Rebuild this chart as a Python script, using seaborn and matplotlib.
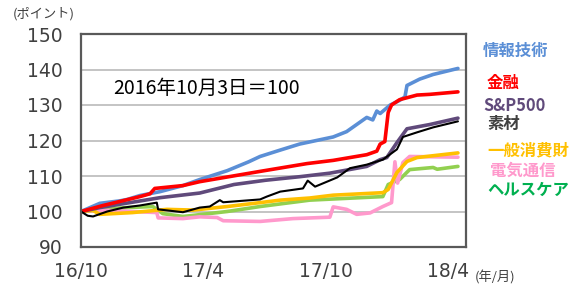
import matplotlib
matplotlib.use("Agg")
import matplotlib.pyplot as plt
import seaborn as sns
import pandas as pd

# ---------------- data ----------------
it_dates = ["2016-10-03","2016-10-31","2016-11-30","2016-12-11","2016-12-30","2017-01-29","2017-03-04","2017-03-29",
            "2017-05-09","2017-06-10","2017-06-27","2017-07-27","2017-08-25","2017-10-14","2017-11-03","2017-12-03",
            "2017-12-12","2017-12-18","2017-12-23","2018-01-07","2018-01-21","2018-01-29","2018-02-01","2018-02-20",
            "2018-03-12","2018-04-18"]
it_vals = [100,102.3,103.0,103.4,104.5,105.6,107.3,109.0,
           111.5,114.0,115.5,117.3,119.0,121.0,122.5,126.5,
           125.8,128.3,127.6,130.0,131.3,132.3,135.5,137.3,
           138.6,140.3]

fin_dates = ["2016-10-03","2016-11-05","2016-12-30","2017-01-14","2017-01-21","2017-03-04","2017-03-29","2017-06-27",
             "2017-09-05","2017-10-14","2017-12-03","2017-12-18","2017-12-23","2017-12-30","2018-01-04","2018-01-09",
             "2018-01-21","2018-02-16","2018-03-07","2018-04-18"]
fin_vals = [100,101.7,104.2,105.0,106.5,107.3,108.4,111.3,
            113.5,114.4,116.0,117.0,119.0,119.7,127.9,130.0,
            131.5,132.8,133.0,133.7]

sp_dates = ["2016-10-03","2016-10-31","2017-01-29","2017-03-29","2017-05-19","2017-07-05","2017-08-25","2017-10-09",
            "2017-12-03","2017-12-23","2018-01-02","2018-01-17","2018-02-01","2018-03-07","2018-04-18"]
sp_vals = [100,101.1,103.9,105.2,107.6,108.8,109.8,110.8,
           112.7,114.6,115.2,119.4,123.3,124.5,126.3]

mat_dates = ["2016-10-03","2016-10-13","2016-10-21","2016-11-11","2016-12-05","2016-12-30","2017-01-24","2017-01-26",
             "2017-03-04","2017-03-29","2017-04-13","2017-04-28","2017-05-03","2017-06-27","2017-07-07","2017-07-27",
             "2017-08-30","2017-09-06","2017-09-17","2017-10-20","2017-11-08","2017-12-03","2017-12-27","2018-01-17",
             "2018-01-26","2018-02-16","2018-03-12","2018-04-18"]
mat_vals = [100,98.8,98.6,100.0,101.1,101.7,102.5,100.6,
            99.8,101.1,101.4,103.2,102.6,103.4,104.2,105.6,
            106.5,108.7,107.0,109.6,112.2,113.2,114.6,117.5,
            121.0,122.3,123.7,125.4]

cons_dates = ["2016-10-03","2016-10-21","2016-10-31","2016-12-19","2017-02-08","2017-03-19","2017-05-09","2017-06-27",
              "2017-07-27","2017-09-09","2017-10-14","2017-12-27","2018-01-04","2018-01-17","2018-02-01","2018-02-16",
              "2018-04-18"]
cons_vals = [100,100.3,99.2,99.7,100.6,100.4,101.4,102.5,
             103.2,103.8,104.6,105.3,106.2,111.0,114.1,115.2,
             116.5]

tel_dates = ["2016-10-03","2016-10-31","2017-01-24","2017-01-26","2017-03-04","2017-03-29","2017-04-24","2017-05-03",
             "2017-06-27","2017-08-15","2017-10-09","2017-10-14","2017-11-03","2017-11-18","2017-12-08","2017-12-27",
             "2018-01-09","2018-01-14","2018-01-18","2018-01-26","2018-02-05","2018-04-18"]
tel_vals = [100,100.4,99.7,98.2,98.0,98.5,98.3,97.4,
            97.2,98.0,98.4,101.3,100.6,99.2,99.6,101.4,
            102.5,114.0,108.0,113.8,115.5,115.3]

hc_dates = ["2016-10-03","2016-10-31","2016-12-11","2017-01-18","2017-02-02","2017-03-04","2017-03-19","2017-05-09",
            "2017-06-27","2017-09-09","2017-12-27","2018-01-04","2018-01-21","2018-02-05","2018-03-12","2018-03-18",
            "2018-04-18"]
hc_vals = [100,100.6,101.1,101.4,99.4,98.6,98.9,100.0,
           101.4,103.2,104.2,107.6,109.0,111.8,112.4,111.9,
           112.7]

series_names = ["情報技術", "金融", "S&P500", "素材", "一般消費財", "電気通信", "ヘルスケア"]
tick_dates = ["2016-10-03", "2017-04-03", "2017-10-03", "2018-04-03"]
tick_labels = ["16/10", "17/4", "17/10", "18/4"]
y_ticks = [90, 100, 110, 120, 130, 140, 150]

# ---------------- build long table ----------------
raw = {
    "情報技術": (it_dates, it_vals),
    "金融": (fin_dates, fin_vals),
    "S&P500": (sp_dates, sp_vals),
    "素材": (mat_dates, mat_vals),
    "一般消費財": (cons_dates, cons_vals),
    "電気通信": (tel_dates, tel_vals),
    "ヘルスケア": (hc_dates, hc_vals),
}
frames = []
for name in series_names:
    d, v = raw[name]
    frames.append(pd.DataFrame({"date": pd.to_datetime(d), "value": v, "sector": name}))
df = pd.concat(frames, ignore_index=True)

line_colors = {"情報技術": "#5B8FD6", "金融": "#FF0000", "S&P500": "#604A7B", "素材": "#000000",
               "一般消費財": "#FFC000", "電気通信": "#FF99CC", "ヘルスケア": "#92D050"}
label_colors = {"情報技術": "#5B8FD6", "金融": "#FF0000", "S&P500": "#604A7B", "素材": "#404040",
                "一般消費財": "#FFC000", "電気通信": "#FF99CC", "ヘルスケア": "#00B050"}

# ---------------- plot ----------------
sns.set_style("white")
plt.rcParams["font.family"] = ["Noto Sans CJK JP", "DejaVu Sans"]

fig = plt.figure(figsize=(5.73, 2.88), dpi=100)
ax = fig.add_axes([81/573, 1-247/288, (466-81)/573, (247-34)/288])

draw_order = ["ヘルスケア", "電気通信", "一般消費財", "S&P500", "情報技術", "金融", "素材"]
for name in draw_order:
    sub = df[df["sector"] == name]
    sns.lineplot(data=sub, x="date", y="value", ax=ax, color=line_colors[name],
                 lw=1.5 if name == "素材" else 2.6, estimator=None, sort=True, legend=False)

ax.set_xlim(pd.Timestamp("2016-10-03"), pd.Timestamp("2018-04-30"))
ax.set_ylim(90, 150)
ax.set_yticks(y_ticks)
ax.set_yticklabels([str(t) for t in y_ticks], family="DejaVu Sans", fontsize=13.5, color="#404040")
ax.set_xticks(pd.to_datetime(tick_dates))
ax.set_xticklabels(tick_labels, family="DejaVu Sans", fontsize=13.5, color="#404040")
ax.tick_params(axis="y", length=0, pad=13)
ax.tick_params(axis="x", direction="in", length=7, width=1.2, color="#595959", pad=11)
ax.set_xlabel("")
ax.set_ylabel("")
for y in y_ticks[1:-1]:
    ax.axhline(y, color="#BFBFBF", lw=1.3, zorder=0)
for s in ax.spines.values():
    s.set_color("#595959")
    s.set_linewidth(1.6)
    s.set_visible(True)

fig.text(113/573, 1-88/288, "2016年10月3日＝100", fontsize=14, va="center", ha="left", color="#000000")

label_pos = [("情報技術", 483, 51), ("金融", 487, 83), ("S&P500", 483, 106), ("素材", 487, 124),
             ("一般消費財", 487, 150), ("電気通信", 490, 171), ("ヘルスケア", 487, 190)]
for name, px, py in label_pos:
    fig.text(px/573, 1-py/288, name, fontsize=11.8, fontweight="bold", color=label_colors[name],
             ha="left", va="center")

fig.text(13/573, 1-14/288, "(ポイント)", fontsize=9.5, color="#404040", ha="left", va="center")
fig.text(475/573, 1-277/288, "(年/月)", fontsize=9.5, color="#404040", ha="left", va="center")

fig.savefig("out.png", dpi=100)
